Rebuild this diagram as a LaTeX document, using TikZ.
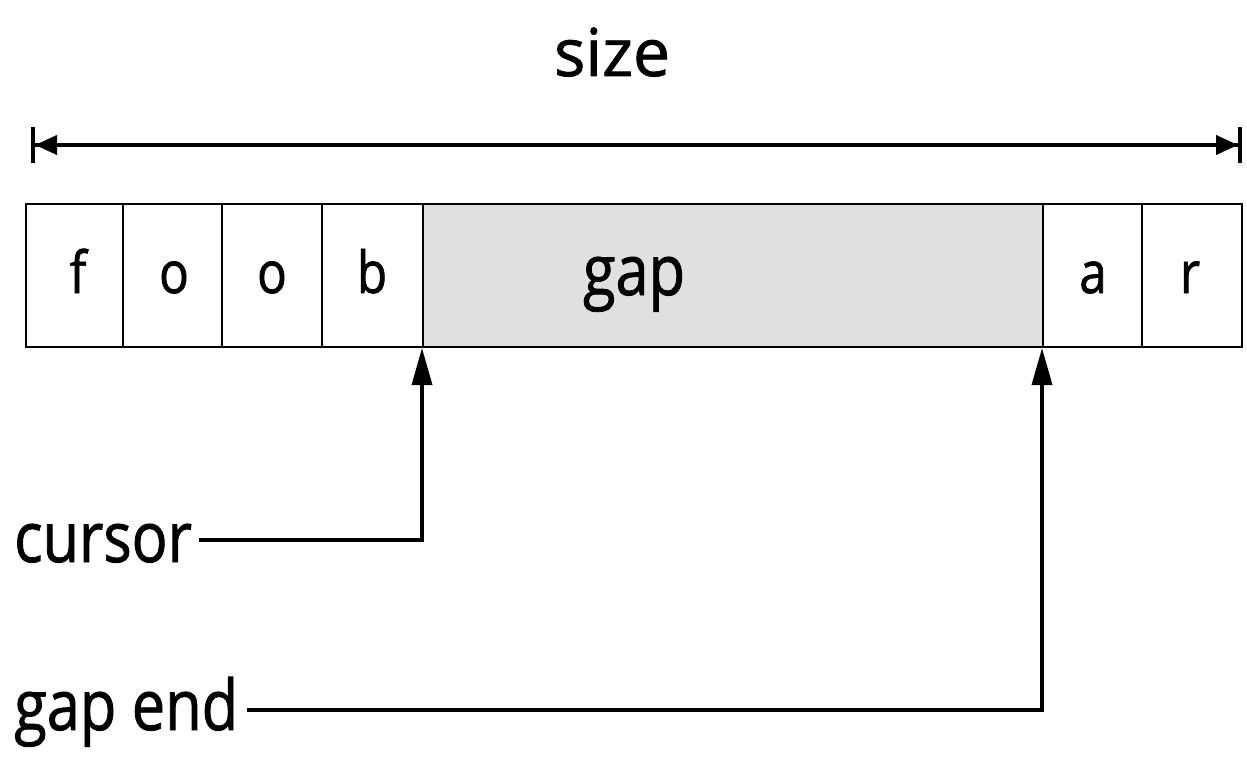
\documentclass[tikz,border=0pt]{standalone}
\usepackage{fontspec}
\usetikzlibrary{arrows.meta}
\newfontfamily\hand[FakeStretch=0.85,FakeBold=1.2]{Open Sans}
\newfontfamily\handwide[FakeBold=1.2]{Open Sans}
\definecolor{gapgray}{HTML}{E0E0E0}
\tikzset{
  cell/.style={draw=black, line width=2pt, minimum height=143pt, inner sep=0pt, anchor=center,
    font=\hand\fontsize{56}{60}\selectfont},
  lbl/.style={inner sep=0pt, anchor=base west, font=\hand\fontsize{70}{80}\selectfont},
  ptr/.style={line width=3.5pt, -{Triangle[length=37pt,width=20pt]}},
  dim/.style={line width=4pt, {Bar[width=36pt]Triangle[length=22pt,width=19pt]}-{Triangle[length=22pt,width=19pt]Bar[width=36pt]}}
}
\begin{document}
\begin{tikzpicture}[x=1pt,y=-1pt]
\useasboundingbox (0,0) rectangle (1247,757);
% size label and dimension arrow
\node[inner sep=0pt, anchor=base, font=\handwide\fontsize{66}{70}\selectfont] (size) at (612,76) {size};
\coordinate (sl) at (31,145);
\coordinate (sr) at (1242,145);
\draw[dim] (sl) -- (sr);
% cells
\node[cell, minimum width=97pt] (c1) at (74.5,275.5) {};
\node[cell, minimum width=99pt] (c2) at (172.5,275.5) {};
\node[cell, minimum width=100pt] (c3) at (272,275.5) {};
\node[cell, minimum width=101pt] (c4) at (372.5,275.5) {};
\node[cell, minimum width=620pt, fill=gapgray] (c5) at (733,275.5) {};
\node[cell, minimum width=99pt] (c6) at (1092.5,275.5) {};
\node[cell, minimum width=100pt] (c7) at (1192,275.5) {};
% cell letters
\node[inner sep=0pt, anchor=base, font=\hand\fontsize{58}{60}\selectfont] (t1) at (78,293) {f};
\node[inner sep=0pt, anchor=base, font=\hand\fontsize{58}{60}\selectfont] (t2) at (174,293) {o};
\node[inner sep=0pt, anchor=base, font=\hand\fontsize{58}{60}\selectfont] (t3) at (272,293) {o};
\node[inner sep=0pt, anchor=base, font=\hand\fontsize{58}{60}\selectfont] (t4) at (372,293) {b};
\node[inner sep=0pt, anchor=base, font=\hand\fontsize{70}{80}\selectfont] (t5) at (634,295) {gap};
\node[inner sep=0pt, anchor=base, font=\hand\fontsize{58}{60}\selectfont] (t6) at (1093,293) {a};
\node[inner sep=0pt, anchor=base, font=\hand\fontsize{58}{60}\selectfont] (t7) at (1190,293) {r};
% pointer labels
\node[lbl] (cursor) at (14,562) {cursor};
\node[lbl] (gapend) at (14,730) {gap end};
\draw[ptr] ([xshift=7pt,yshift=22pt]cursor.base east) -| (c5.south west);
\draw[ptr] ([xshift=9pt,yshift=20pt]gapend.base east) -| (c6.south west);
\end{tikzpicture}
\end{document}
